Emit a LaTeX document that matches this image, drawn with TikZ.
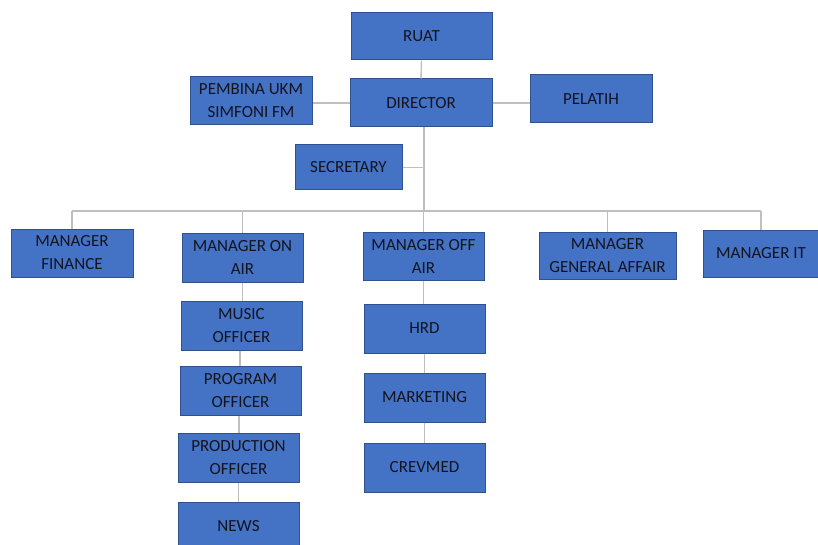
\documentclass[tikz,border=0pt]{standalone}
\usepackage{fontspec}
\setmainfont{Carlito}
\definecolor{boxfill}{HTML}{4472C4}
\definecolor{boxline}{HTML}{2F528F}
\definecolor{txt}{HTML}{141420}
\definecolor{link}{HTML}{BFBFBF}
\tikzset{
  box/.style={draw=boxline, line width=1pt, fill=boxfill, text=txt, align=center,
    inner sep=1pt, font=\fontsize{17}{23}\selectfont},
  conn/.style={draw=link, line width=1.4pt}
}
\begin{document}
\begin{tikzpicture}[x=1pt,y=-1pt]
\useasboundingbox (0,0) rectangle (818,545);
% top
\node[box, minimum width=141pt, minimum height=47pt] (ruat) at (421.5,36.5) {RUAT};
\node[box, minimum width=142pt, minimum height=48pt] (director) at (421,103) {DIRECTOR};
\node[box, minimum width=122pt, minimum height=48pt] (pembina) at (251,101) {PEMBINA UKM\\SIMFONI FM};
\node[box, minimum width=122pt, minimum height=48pt] (pelatih) at (591,99) {PELATIH};
\node[box, minimum width=107pt, minimum height=45pt] (secretary) at (348.5,167.5) {SECRETARY};
% managers
\node[box, minimum width=122pt, minimum height=48pt] (finance) at (72,253) {MANAGER\\FINANCE};
\node[box, minimum width=121pt, minimum height=49pt] (onair) at (242.5,257.5) {MANAGER ON\\AIR};
\node[box, minimum width=121pt, minimum height=48pt] (offair) at (423.5,256) {MANAGER OFF\\AIR};
\node[box, minimum width=137pt, minimum height=47pt] (general) at (607.5,255.5) {MANAGER\\GENERAL AFFAIR};
\node[box, minimum width=116pt, minimum height=47pt] (it) at (761,253.5) {MANAGER IT};
% on air chain
\node[box, minimum width=121pt, minimum height=49pt] (music) at (241.5,325.5) {MUSIC\\OFFICER};
\node[box, minimum width=121pt, minimum height=49pt] (program) at (240.5,390.5) {PROGRAM\\OFFICER};
\node[box, minimum width=121pt, minimum height=49pt] (production) at (238.5,457.5) {PRODUCTION\\OFFICER};
\node[box, minimum width=121pt, minimum height=48pt] (news) at (238.5,526) {NEWS};
% off air chain
\node[box, minimum width=121pt, minimum height=49pt] (hrd) at (424.5,328.5) {HRD};
\node[box, minimum width=121pt, minimum height=49pt] (marketing) at (424.5,397.5) {MARKETING};
\node[box, minimum width=121pt, minimum height=49pt] (crevmed) at (424.5,467.5) {CREVMED};
% connectors
\coordinate (bus) at (424,211);
\draw[conn] (ruat.south) -- (director.north);
\draw[conn] (director.west) -- (director.west -| pembina.east);
\draw[conn] (director.east) -- (director.east -| pelatih.west);
\draw[conn] (director.south -| bus) -- (bus);
\draw[conn] (secretary.east) -- (secretary.east -| bus);
\draw[conn] (finance.north |- bus) -- (it.north |- bus);
\draw[conn] (finance.north) -- (finance.north |- bus);
\draw[conn] (onair.north) -- (onair.north |- bus);
\draw[conn] (offair.north) -- (offair.north |- bus);
\draw[conn] (general.north) -- (general.north |- bus);
\draw[conn] (it.north) -- (it.north |- bus);
\draw[conn] (onair.south) -- (onair.south |- music.north);
\draw[conn] (music.south -| 240,0) -- (program.north -| 240,0);
\draw[conn] (program.south -| 239,0) -- (production.north -| 239,0);
\draw[conn] (production.south) -- (news.north);
\draw[conn] (offair.south) -- (offair.south |- hrd.north);
\draw[conn] (hrd.south) -- (marketing.north);
\draw[conn] (marketing.south) -- (crevmed.north);
\end{tikzpicture}
\end{document}
